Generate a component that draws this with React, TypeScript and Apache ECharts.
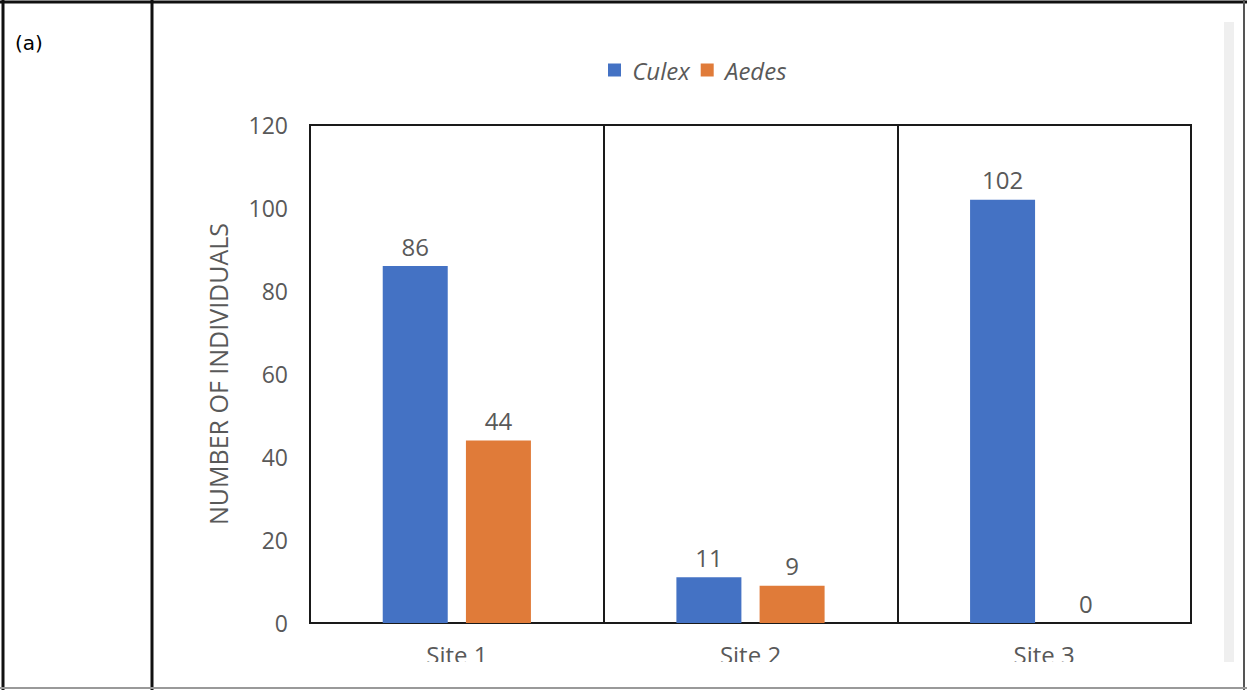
import React, { useEffect, useRef } from "react";
import * as echarts from "echarts";

const categories = ["Site 1", "Site 2", "Site 3"];
const culex = [86, 11, 102];
const aedes = [44, 9, 0];
const seriesNames = ["Culex", "Aedes"];

export default function App() {
  const ref = useRef<HTMLDivElement>(null);
  useEffect(() => {
    const chart = echarts.init(ref.current!, null, { renderer: "svg" });
    const font = "'Open Sans', sans-serif";
    const labelStyle = {
      show: true,
      position: "top" as const,
      distance: 8,
      color: "#595959",
      fontSize: 24,
      fontFamily: font,
    };
    chart.setOption({
      animation: false,
      backgroundColor: "#ffffff",
      legend: {
        data: seriesNames,
        left: 603,
        top: 53,
        itemWidth: 13,
        itemHeight: 13,
        itemGap: 11,
        icon: "rect",
        formatter: (name: string) => " " + name,
        textStyle: { color: "#595959", fontSize: 24, fontStyle: "italic", fontFamily: font, letterSpacing: 1.7 },
      },
      grid: {
        left: 310,
        top: 125,
        width: 881,
        height: 498,
        show: true,
        borderColor: "#1a1a1a",
        borderWidth: 2,
        backgroundColor: "transparent",
      },
      xAxis: {
        type: "category",
        data: categories,
        axisLine: { show: true, lineStyle: { color: "#1a1a1a", width: 2 } },
        axisTick: { show: false },
        splitLine: { show: true, lineStyle: { color: "#1a1a1a", width: 2 } },
        axisLabel: { color: "#595959", fontSize: 24, fontFamily: font, margin: 19 },
      },
      yAxis: {
        type: "value",
        min: 0,
        max: 120,
        interval: 20,
        name: "NUMBER OF INDIVIDUALS",
        nameLocation: "middle",
        nameGap: 80,
        nameTextStyle: { color: "#595959", fontSize: 25, fontFamily: font },
        axisLine: { show: false },
        axisTick: { show: false },
        splitLine: { show: false },
        axisLabel: { color: "#595959", fontSize: 23, fontFamily: font, margin: 22 },
      },
      series: [
        {
          name: seriesNames[0],
          type: "bar",
          data: culex,
          barWidth: 65,
          barGap: "28%",
          itemStyle: { color: "#4472C4" },
          label: labelStyle,
        },
        {
          name: seriesNames[1],
          type: "bar",
          data: aedes,
          barWidth: 65,
          barGap: "28%",
          itemStyle: { color: "#E07B39" },
          label: labelStyle,
        },
      ],
      graphic: [
        { type: "rect", z: 100, shape: { x: 154, y: 662, width: 1088, height: 25 }, style: { fill: "#ffffff" } },
        { type: "rect", z: 100, shape: { x: 1224, y: 22, width: 10, height: 640 }, style: { fill: "#efefef" } },
        { type: "line", z: 101, shape: { x1: 0, y1: 2, x2: 1247, y2: 2 }, style: { stroke: "#111", lineWidth: 3 } },
        { type: "line", z: 101, shape: { x1: 3, y1: 0, x2: 3, y2: 690 }, style: { stroke: "#111", lineWidth: 3 } },
        { type: "line", z: 101, shape: { x1: 152, y1: 0, x2: 152, y2: 690 }, style: { stroke: "#111", lineWidth: 3 } },
        { type: "line", z: 101, shape: { x1: 1244, y1: 0, x2: 1244, y2: 690 }, style: { stroke: "#555", lineWidth: 2 } },
        { type: "line", z: 101, shape: { x1: 0, y1: 688, x2: 1247, y2: 688 }, style: { stroke: "#999", lineWidth: 2 } },
        {
          type: "text",
          z: 101,
          left: 15,
          top: 33,
          style: { text: "(a)", fontSize: 20, fontFamily: "'DejaVu Sans', sans-serif", fill: "#000" },
        },
      ],
    });
    return () => chart.dispose();
  }, []);
  return (
    <div
      ref={ref}
      style={{ position: "fixed", left: 0, top: 0, width: 1247, height: 690 }}
    />
  );
}
